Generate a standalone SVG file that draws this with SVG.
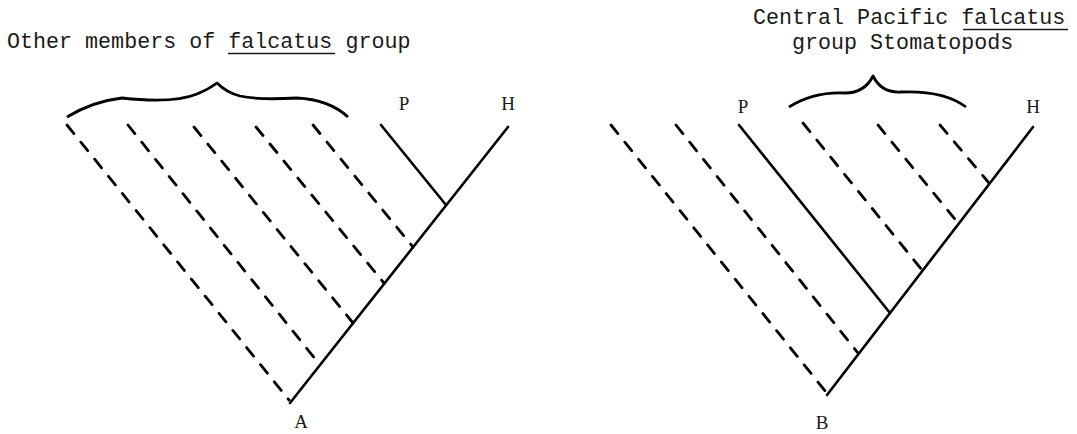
<svg xmlns="http://www.w3.org/2000/svg" width="1077" height="434" viewBox="0 0 1077 434">
<style>
.cap{font-family:"Liberation Mono","DejaVu Sans Mono",monospace;font-size:21.7px;fill:#1a1a1a}
.lab{font-family:"Liberation Serif","DejaVu Serif",serif;font-size:19px;fill:#1a1a1a;text-anchor:middle}
.sol{stroke:#000;stroke-width:2.6;fill:none;stroke-linecap:round}
.dash{stroke:#000;stroke-width:2.8;fill:none;stroke-linecap:round;stroke-dasharray:11 11}
.ul{stroke:#1a1a1a;stroke-width:1.6}
.brace{stroke:#000;stroke-width:2.8;fill:none;stroke-linejoin:round}
</style>
<rect width="1077" height="434" fill="#fff"/>
<g id="caption-left">
<text class="cap" x="7" y="48">Other members of falcatus group</text>
<line class="ul" x1="228" y1="53.5" x2="335" y2="53.5"/>
</g>
<g id="caption-right">
<text class="cap" x="753" y="24">Central Pacific falcatus</text>
<line class="ul" x1="963" y1="29.5" x2="1068" y2="29.5"/>
<text class="cap" x="792" y="49">group Stomatopods</text>
</g>
<g id="brace-left">
<path class="brace" d="M67,117 C85,106 105,100 122,98 C140,100 175,103 197,94 C207,90 213,86 217,83 C222,88 228,93 240,96 C258,100 280,99 297,98 C318,99 336,106 348,117"/>
</g>
<g id="brace-right">
<path class="brace" d="M789,107 C805,97 825,92 845,93 C860,93 868,86 873,76 C878,86 886,93 901,92 C925,91 950,95 966,107"/>
</g>
<g id="node-P-left"><text class="lab" x="404" y="110">P</text></g>
<g id="node-H-left"><text class="lab" x="508" y="110">H</text></g>
<g id="node-A"><text class="lab" x="301" y="428">A</text></g>
<g id="node-P-right"><text class="lab" x="743" y="113">P</text></g>
<g id="node-H-right"><text class="lab" x="1033" y="113">H</text></g>
<g id="node-B"><text class="lab" x="822" y="429">B</text></g>
<g id="connectors">
<line class="sol" x1="290" y1="403" x2="508" y2="127"/>
<line class="sol" x1="381" y1="125" x2="446" y2="205"/>
<line class="dash" x1="67" y1="125" x2="289" y2="400"/>
<line class="dash" x1="128" y1="125" x2="320" y2="365"/>
<line class="dash" x1="194" y1="127" x2="353" y2="323"/>
<line class="dash" x1="256" y1="127" x2="384" y2="283"/>
<line class="dash" x1="313" y1="125" x2="413" y2="247"/>
<line class="sol" x1="827" y1="395" x2="1033" y2="127"/>
<line class="sol" x1="739" y1="125" x2="890" y2="313"/>
<line class="dash" x1="611" y1="125" x2="826" y2="392"/>
<line class="dash" x1="676" y1="125" x2="858" y2="353"/>
<line class="dash" x1="803" y1="123" x2="922" y2="270"/>
<line class="dash" x1="878" y1="125" x2="958" y2="223"/>
<line class="dash" x1="940" y1="125" x2="989" y2="183"/>
</g>
</svg>
